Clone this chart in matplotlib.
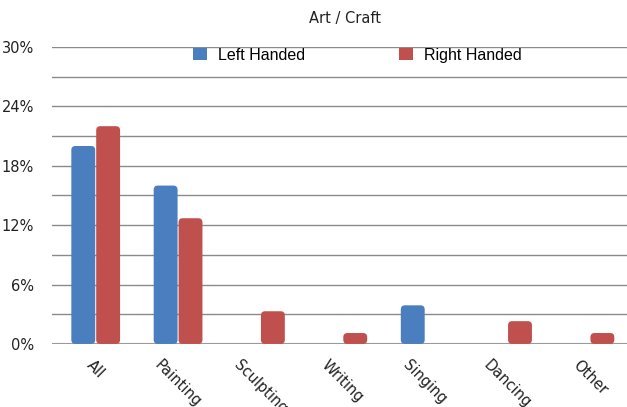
import matplotlib.pyplot as plt
import numpy as np
from matplotlib.patches import FancyBboxPatch

categories = ["All", "Painting", "Sculpting", "Writing", "Singing", "Dancing", "Other"]
left_handed = [20.0, 16.0, 0.0, 0.0, 3.9, 0.0, 0.0]
right_handed = [22.0, 12.7, 3.3, 1.1, 0.0, 2.3, 1.1]
yticks = [0, 6, 12, 18, 24, 30]

blue = "#4a7ebf"
red = "#c0504d"

fig = plt.figure(figsize=(6.27, 4.07), dpi=100)
ax = fig.add_axes([0.083, 0.155, 0.917, 0.7295])

x = np.arange(len(categories))
w = 0.29
gap = 0.012

# rounded bars: draw plain bars, then swap them for rounded patches
for vals, off, col, lab in [(left_handed, -(w + gap) / 2, blue, "Left Handed"),
                            (right_handed, (w + gap) / 2, red, "Right Handed")]:
    bars = ax.bar(x + off, vals, width=w, color=col, label=lab)
    for b in bars:
        h = b.get_height()
        b.set_visible(False)
        if h <= 0:
            continue
        p = FancyBboxPatch((b.get_x(), 0), w, h,
                           boxstyle="round,pad=0,rounding_size=0.05",
                           mutation_aspect=8.3, fc=col, ec="none", zorder=3)
        ax.add_patch(p)

ax.set_xlim(-0.53, 6.45)
ax.set_ylim(0, 30)
ax.set_yticks(yticks)
ax.set_yticklabels([f"{t}%" for t in yticks], fontsize=10.5, family="DejaVu Sans",
                   color="#222222")
for g in np.arange(3, 31, 3):
    ax.axhline(g, color="#8a8a8a", lw=1.0, zorder=1)
ax.axhline(0, color="#9a9a9a", lw=1.5, zorder=1)

ax.set_xticks(x)
ax.set_xticklabels(categories, rotation=-45, ha="center", va="top",
                   fontsize=10.5, family="DejaVu Sans", color="#222222")
ax.tick_params(length=0, pad=13)
ax.tick_params(axis="x", pad=10)
for s in ax.spines.values():
    s.set_visible(False)

handles = [plt.Rectangle((0, 0), 1, 1, fc=blue), plt.Rectangle((0, 0), 1, 1, fc=red)]
ax.legend(handles, ["Left Handed", "Right Handed"], ncol=2, frameon=False,
          loc="center", bbox_to_anchor=(0.531, 0.973), columnspacing=5.9,
          handlelength=0.85, handleheight=0.85, handletextpad=0.7,
          borderpad=0, prop={"family": "Liberation Sans", "size": 11.5})

fig.text(0.551, 0.955, "Art / Craft", ha="center", va="center",
         fontsize=10.5, family="DejaVu Sans", color="#222222")

fig.savefig("out.png", dpi=100)
